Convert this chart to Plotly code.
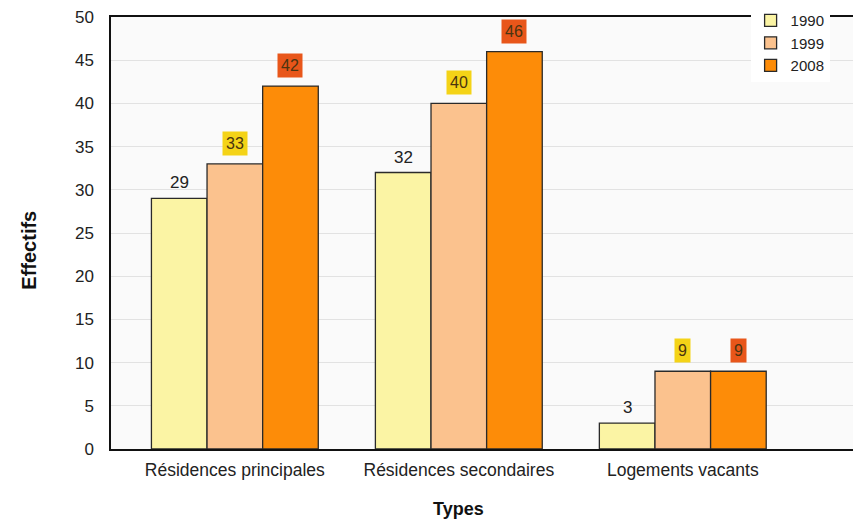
import plotly.graph_objects as go

# Housing stock by type, three census years
types = ["Résidences principales", "Résidences secondaires", "Logements vacants"]
years = ["1990", "1999", "2008"]
v1990 = [29, 32, 3]
v1999 = [33, 40, 9]
v2008 = [42, 46, 9]
y_ticks = [0, 5, 10, 15, 20, 25, 30, 35, 40, 45, 50]

series = [v1990, v1999, v2008]
fills = ["#fbf4a4", "#fbc28e", "#fd8c08"]
label_bg = [None, "#f4d317", "#e8561a"]

bargap = 0.255
bar_w = (1 - bargap) / len(series)

fig = go.Figure()
for k, (yr, vals) in enumerate(zip(years, series)):
    fig.add_trace(go.Bar(
        name=yr, x=types, y=vals,
        marker=dict(color=fills[k], line=dict(color="#2a2a2a", width=1.3)),
    ))

# value labels above each bar
for k, vals in enumerate(series):
    for i, v in enumerate(vals):
        xc = i + (k - (len(series) - 1) / 2) * bar_w
        if label_bg[k] is None:
            fig.add_annotation(x=xc, y=v, xref="x", yref="y", text=str(v),
                               showarrow=False, yanchor="bottom", yshift=4,
                               font=dict(size=17, color="#222222"))
        else:
            fig.add_annotation(x=xc, y=v, xref="x", yref="y", text=str(v),
                               showarrow=False, yanchor="bottom", yshift=8,
                               bgcolor=label_bg[k], borderpad=3,
                               font=dict(size=16, color="#4a3410"))

# axis titles
fig.add_annotation(x=0.469, y=-0.14, xref="paper", yref="paper",
                   text="<b>Types</b>", showarrow=False, yanchor="middle",
                   font=dict(size=18, color="#111111"))
fig.add_annotation(x=-0.11, y=0.46, xref="paper", yref="paper",
                   text="<b>Effectifs</b>", showarrow=False, textangle=-90,
                   xanchor="center", font=dict(size=20, color="#111111"))

fig.update_layout(
    width=853, height=520,
    margin=dict(l=111, r=0, t=17, b=71),
    barmode="group", bargap=bargap, bargroupgap=0,
    paper_bgcolor="white", plot_bgcolor="#fafafa",
    font=dict(family="Liberation Sans, Arial, sans-serif", size=16, color="#222222"),
    showlegend=True,
    legend=dict(x=0.862, y=1.03, xanchor="left", yanchor="top",
                bgcolor="white", font=dict(size=15), itemwidth=30,
                tracegroupgap=0),
    xaxis=dict(
        range=[-0.553, 2.76], showgrid=False,
        showline=True, linecolor="#111111", linewidth=1.5, mirror=True,
        ticks="", tickfont=dict(size=17.5), ticklabelstandoff=4,
    ),
    yaxis=dict(
        range=[0, 50], tickvals=y_ticks,
        showgrid=True, gridcolor="#e2e2e2", gridwidth=1,
        showline=True, linecolor="#111111", linewidth=1.5,
        ticks="", tickfont=dict(size=17), zeroline=False, ticklabelstandoff=12,
    ),
)

fig.write_html("out.html")
